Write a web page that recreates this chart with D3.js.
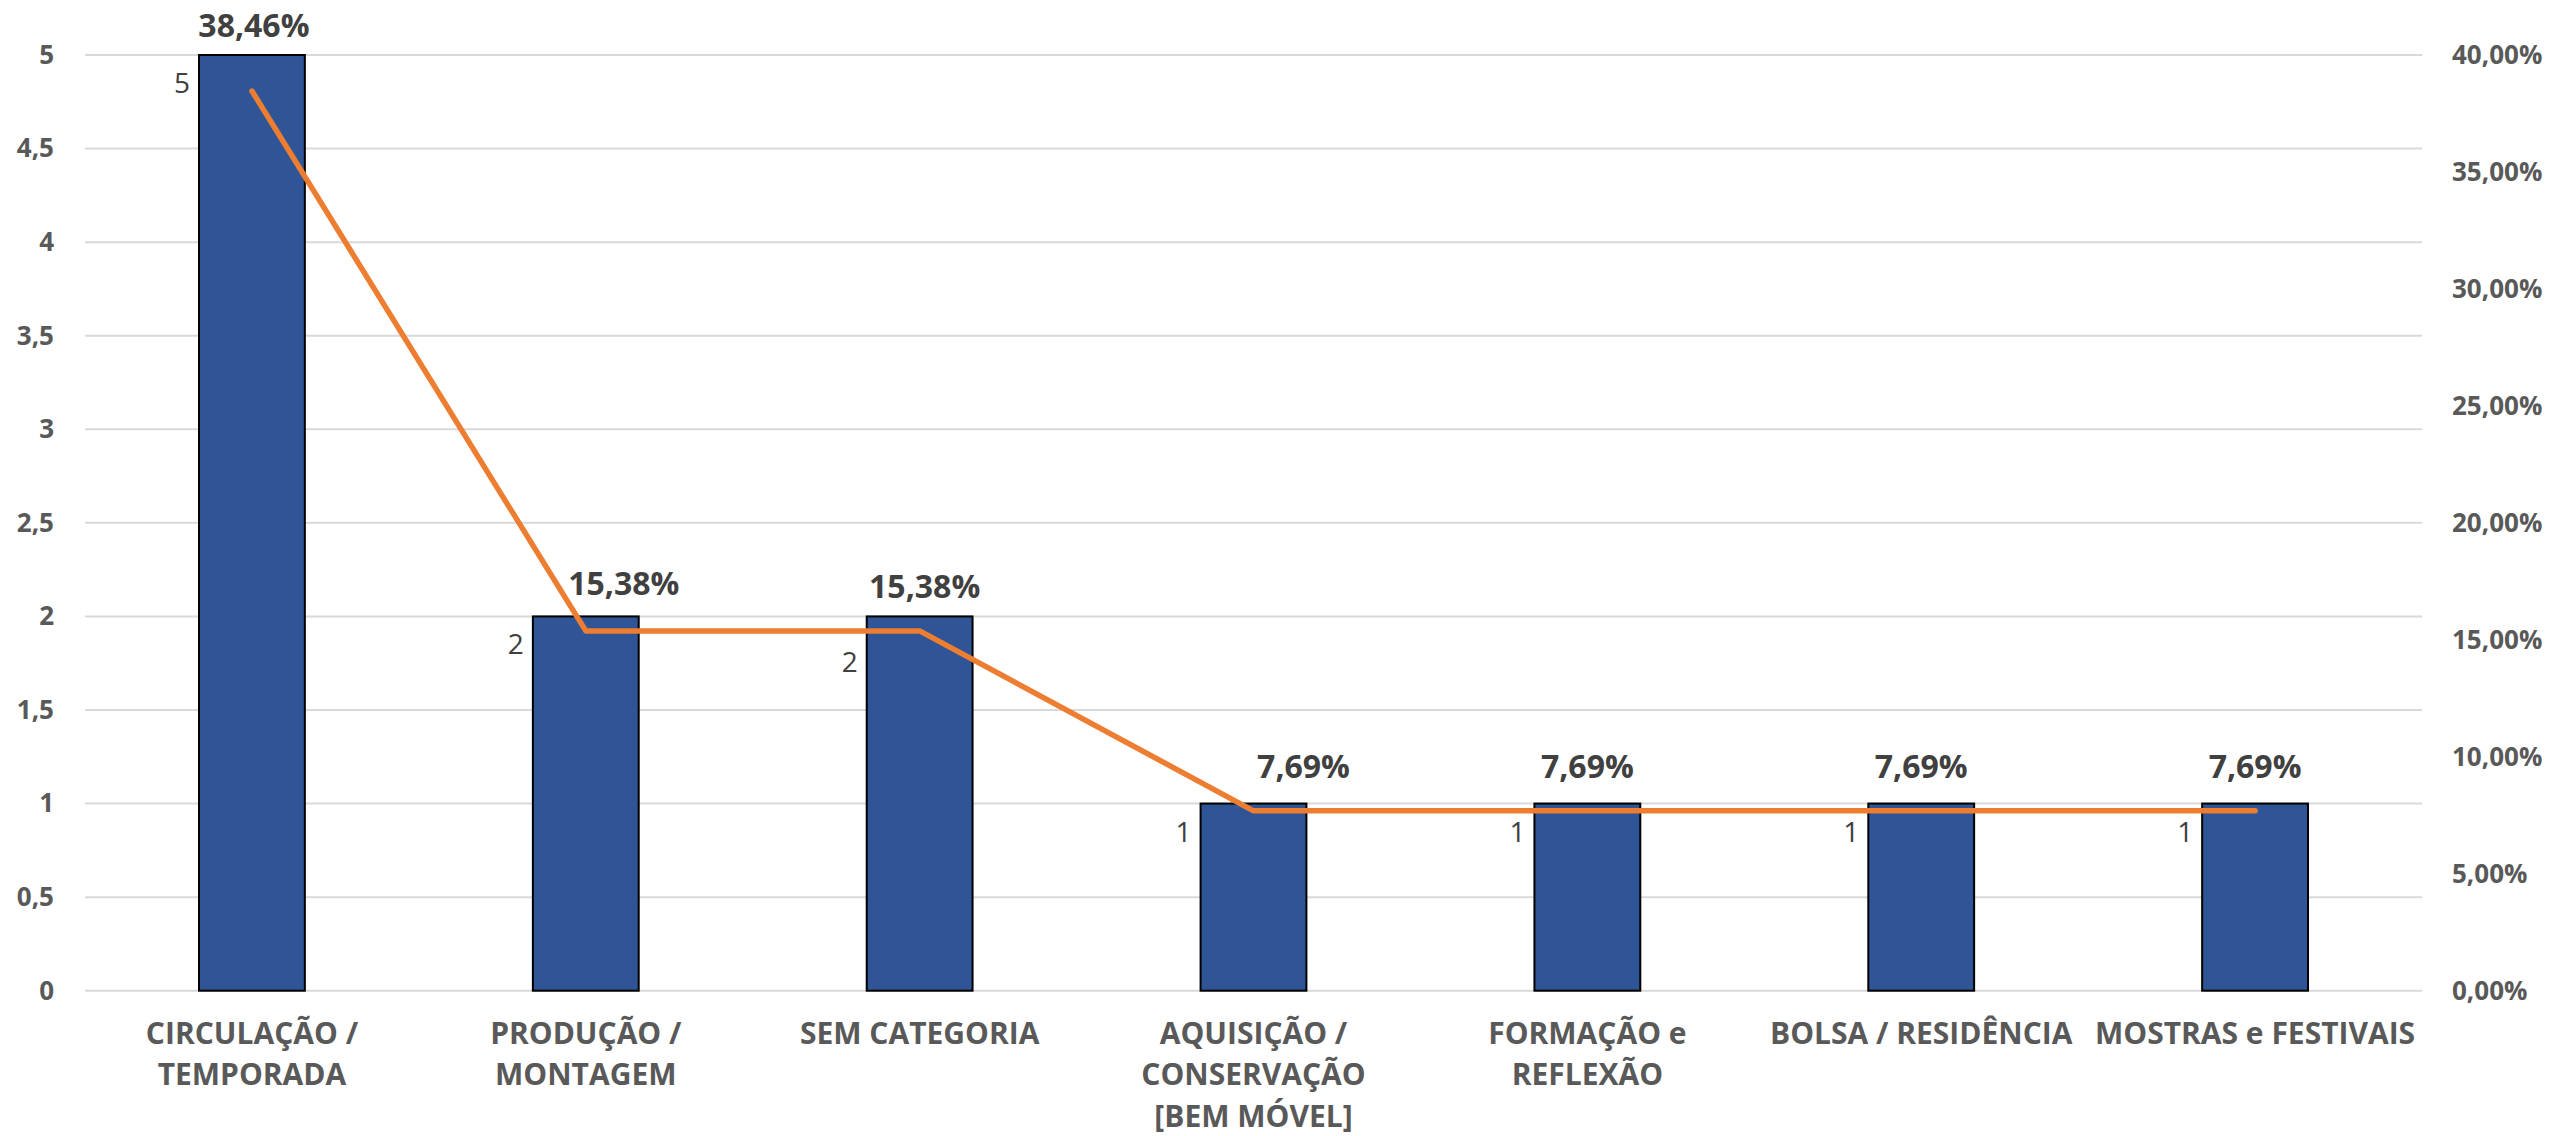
<!DOCTYPE html>
<html>
<head>
<meta charset="utf-8">
<script src="https://cdn.jsdelivr.net/npm/d3@7"></script>
<style>
  html, body { margin: 0; padding: 0; background: #ffffff; }
  svg { display: block; }
</style>
</head>
<body>
<svg id="chart" width="2554" height="1136"></svg>
<script>
// ---- Data ----
const categories = [
  "CIRCULAÇÃO /\nTEMPORADA",
  "PRODUÇÃO /\nMONTAGEM",
  "SEM CATEGORIA",
  "AQUISIÇÃO /\nCONSERVAÇÃO\n[BEM MÓVEL]",
  "FORMAÇÃO e\nREFLEXÃO",
  "BOLSA / RESIDÊNCIA",
  "MOSTRAS e FESTIVAIS"
];
const counts = [5, 2, 2, 1, 1, 1, 1];
const percents = [0.3846, 0.1538, 0.1538, 0.0769, 0.0769, 0.0769, 0.0769];
const leftTicks = [0, 0.5, 1, 1.5, 2, 2.5, 3, 3.5, 4, 4.5, 5];
const rightTicks = [0, 0.05, 0.10, 0.15, 0.20, 0.25, 0.30, 0.35, 0.40];

// ---- Layout ----
const plotLeft = 85, plotRight = 2422, plotTop = 55, plotBottom = 990.7;
const FONT = "'Open Sans', Lato, sans-serif";

const loc = d3.formatLocale({decimal: ",", thousands: ".", grouping: [3], currency: ["", ""]});
const fmtPct = loc.format(".2%");
const fmtNum = loc.format("~g");

const svg = d3.select("#chart");

const x = d3.scaleBand()
  .domain(categories)
  .range([plotLeft, plotRight])
  .paddingInner(0.683)
  .paddingOuter(0.683 / 2);

const yL = d3.scaleLinear().domain([0, 5]).range([plotBottom, plotTop]);
const yR = d3.scaleLinear().domain([0, 0.40]).range([plotBottom, plotTop]);

// gridlines
svg.append("g").selectAll("line")
  .data(leftTicks)
  .join("line")
  .attr("x1", plotLeft).attr("x2", plotRight)
  .attr("y1", d => yL(d)).attr("y2", d => yL(d))
  .attr("stroke", "#d9d9d9").attr("stroke-width", 2);

// left axis
const axL = svg.append("g")
  .attr("transform", `translate(${54},0)`)
  .call(d3.axisLeft(yL).tickValues(leftTicks).tickFormat(fmtNum).tickSize(0).tickPadding(0));
axL.select(".domain").remove();
axL.selectAll("text")
  .attr("font-family", FONT).attr("font-size", 26).attr("font-weight", "bold")
  .attr("fill", "#595959");

// right axis
const axR = svg.append("g")
  .attr("transform", `translate(${2452},0)`)
  .call(d3.axisRight(yR).tickValues(rightTicks).tickFormat(fmtPct).tickSize(0).tickPadding(0));
axR.select(".domain").remove();
axR.selectAll("text")
  .attr("font-family", FONT).attr("font-size", 26).attr("font-weight", "bold")
  .attr("fill", "#595959");

// bottom category labels
const axB = svg.append("g")
  .attr("transform", `translate(0,${plotBottom})`)
  .call(d3.axisBottom(x).tickSize(0).tickFormat(""));
axB.select(".domain").remove();
axB.selectAll(".tick").each(function(d) {
  const lines = d.split("\n");
  const t = d3.select(this).append("text")
    .attr("text-anchor", "middle")
    .attr("font-family", FONT).attr("font-size", 30).attr("font-weight", "bold")
    .attr("fill", "#595959");
  lines.forEach((ln, i) => {
    t.append("tspan").attr("x", 0).attr("y", 53 + i * 41.5).text(ln);
  });
});

// bars
svg.append("g").selectAll("rect")
  .data(counts)
  .join("rect")
  .attr("x", (d, i) => x(categories[i]))
  .attr("width", x.bandwidth())
  .attr("y", d => yL(d))
  .attr("height", d => yL(0) - yL(d))
  .attr("fill", "#2f5597")
  .attr("stroke", "#000000").attr("stroke-width", 2);

// count labels (left of bars)
svg.append("g").selectAll("text")
  .data(counts)
  .join("text")
  .attr("x", (d, i) => x(categories[i]) - 9)
  .attr("y", (d, i) => yL(d) + (i === 2 ? 45 : 27))
  .attr("dominant-baseline", "central")
  .attr("text-anchor", "end")
  .attr("font-family", FONT).attr("font-size", 28)
  .attr("fill", "#404040")
  .text(d => d);

// line
const cx = i => x(categories[i]) + x.bandwidth() / 2;
const line = d3.line()
  .x((d, i) => cx(i))
  .y(d => yR(d));
svg.append("path")
  .datum(percents)
  .attr("d", line)
  .attr("fill", "none")
  .attr("stroke", "#ed7d31")
  .attr("stroke-width", 5.5)
  .attr("stroke-linejoin", "round")
  .attr("stroke-linecap", "round");

// percent labels
const nudge = i => {
  if (i === 0) return [2, -67];
  if (i === 1) return [38, -48];
  if (i === 2) return [5, -45];
  if (i === 3) return [50, -45];
  return [0, -45];
};
svg.append("g").selectAll("text")
  .data(percents)
  .join("text")
  .attr("x", (d, i) => cx(i) + nudge(i)[0])
  .attr("y", (d, i) => yR(d) + nudge(i)[1])
  .attr("dominant-baseline", "central")
  .attr("text-anchor", "middle")
  .attr("font-family", FONT).attr("font-size", 32).attr("font-weight", "bold")
  .attr("fill", "#404040")
  .text(d => fmtPct(d));
</script>
</body>
</html>
